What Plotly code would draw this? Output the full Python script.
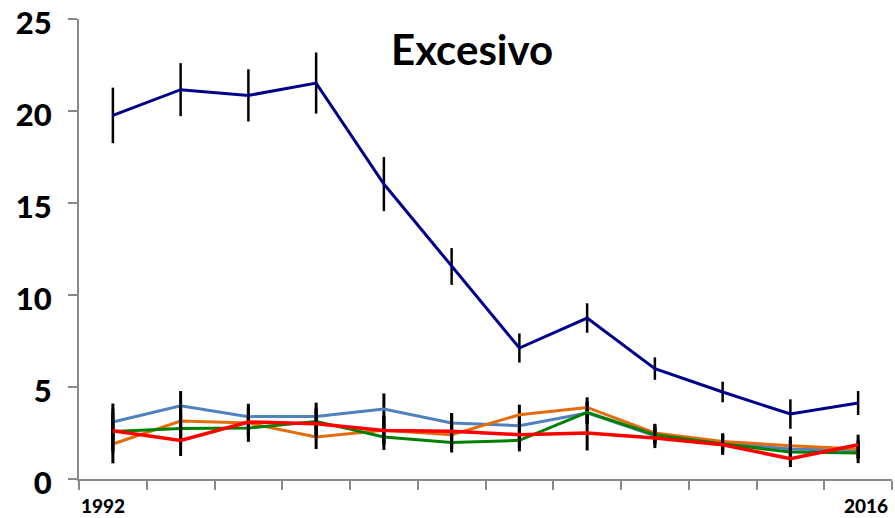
import plotly.graph_objects as go

# 12 survey points between 1992 and 2016 (only first/last labelled)
points = list(range(12))
first_label, last_label = "1992", "2016"
title_text = "Excesivo"

navy = [19.76, 21.16, 20.85, 21.52, 16.03, 11.55, 7.12, 8.75, 6.00, 4.73, 3.53, 4.13]
navy_err = [1.51, 1.44, 1.42, 1.66, 1.47, 1.00, 0.79, 0.80, 0.61, 0.56, 0.80, 0.65]

blue = [3.10, 3.98, 3.39, 3.40, 3.80, 3.04, 2.90, 3.59, 2.35, 1.96, 1.63, 1.55]
blue_err = [1.00, 0.80, 0.70, 0.75, 0.85, 0.55, 0.70, 0.60, 0.45, 0.45, 0.50, 0.45]

orange = [1.90, 3.15, 3.04, 2.28, 2.65, 2.41, 3.49, 3.89, 2.50, 2.04, 1.81, 1.63]
orange_err = [1.05, 0.90, 0.70, 0.65, 0.75, 0.60, 0.55, 0.55, 0.50, 0.45, 0.50, 0.50]

green = [2.58, 2.75, 2.77, 3.13, 2.28, 1.99, 2.10, 3.62, 2.41, 1.90, 1.47, 1.41]
green_err = [1.00, 0.85, 0.75, 0.75, 0.70, 0.55, 0.60, 0.60, 0.55, 0.55, 0.55, 0.55]

red = [2.62, 2.10, 3.10, 3.00, 2.64, 2.59, 2.41, 2.50, 2.23, 1.86, 1.10, 1.86]
red_err = [1.20, 0.85, 0.80, 0.80, 0.80, 0.95, 0.70, 0.95, 0.55, 0.55, 0.45, 0.55]

y_ticks = [0, 5, 10, 15, 20, 25]

series = [
    (navy, navy_err, "#00008B", 3.0, 2.5),
    (blue, blue_err, "#4F81BD", 3.0, 3.0),
    (orange, orange_err, "#E46C0A", 3.0, 3.0),
    (green, green_err, "#008000", 3.0, 3.0),
    (red, red_err, "#FF0000", 3.5, 3.0),
]

FONT = "Lato"

fig = go.Figure()
for vals, errs, col, lw, ew in series:
    fig.add_trace(go.Scatter(
        x=points, y=vals, mode="lines",
        line=dict(color=col, width=lw),
        error_y=dict(type="data", array=errs, visible=True,
                     color="black", thickness=ew, width=0),
        showlegend=False, hoverinfo="skip",
    ))

axis_col = "#898989"
boundaries = [p - 0.5 for p in points] + [points[-1] + 0.5]

fig.update_layout(
    width=895, height=518,
    margin=dict(l=79, r=3, t=19, b=39, autoexpand=False),
    paper_bgcolor="white", plot_bgcolor="white",
    font=dict(family=FONT, color="black"),
    xaxis=dict(
        range=[points[0] - 0.5, points[-1] + 0.5],
        tickmode="array", tickvals=boundaries, ticktext=[""] * len(boundaries),
        ticks="outside", ticklen=9, tickwidth=2, tickcolor=axis_col,
        showline=True, linecolor=axis_col, linewidth=2,
        showgrid=False, zeroline=False, automargin=False,
    ),
    yaxis=dict(
        range=[0, 25.001], tickmode="array", tickvals=y_ticks,
        ticktext=[str(t) for t in y_ticks],
        ticks="outside", ticklen=9, tickwidth=2, tickcolor=axis_col,
        showline=True, linecolor=axis_col, linewidth=2,
        showgrid=False, zeroline=False, automargin=False,
        tickfont=dict(family=FONT, size=31, weight=900, color="black"),
        ticklabelstandoff=10, ticklabeloverflow="allow", ticklabelshift=4,
    ),
    annotations=[
        dict(text=title_text, xref="paper", yref="paper", x=0.483, y=0.935,
             xanchor="center", yanchor="middle", showarrow=False,
             font=dict(family=FONT, size=42, weight="bold", color="black")),
        dict(text=first_label, xref="x", yref="paper", x=points[0] - 0.146, y=-0.058,
             xanchor="center", yanchor="middle", showarrow=False,
             font=dict(family=FONT, size=19, weight=900, color="black")),
        dict(text=last_label, xref="x", yref="paper", x=points[-1] + 0.12, y=-0.058,
             xanchor="center", yanchor="middle", showarrow=False,
             font=dict(family=FONT, size=19, weight=900, color="black")),
    ],
)

fig.write_html("out.html")
